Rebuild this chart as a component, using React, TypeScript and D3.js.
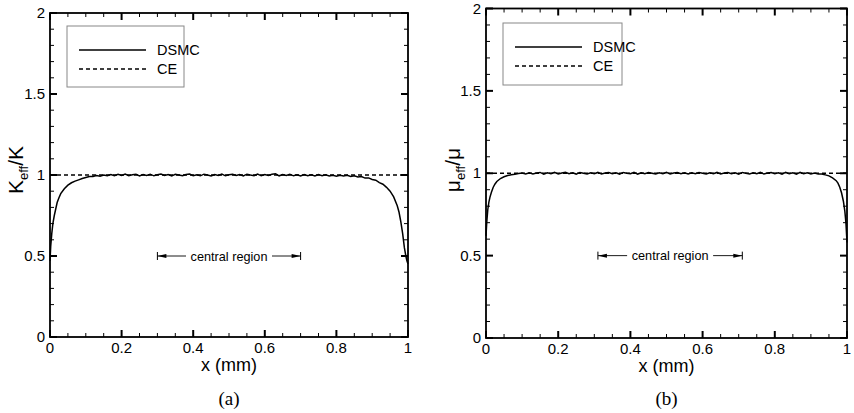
import React from "react";
import * as d3 from "d3";

// ---------- data ----------
const xTickValues = [0, 0.2, 0.4, 0.6, 0.8, 1];
const xTickLabels = ["0", "0.2", "0.4", "0.6", "0.8", "1"];
const yTickValues = [0, 0.5, 1, 1.5, 2];
const yTickLabels = ["0", "0.5", "1", "1.5", "2"];
const legendLabels = ["DSMC", "CE"];
const ceValue = 1.0;
const centralRegionA = [0.3, 0.7];
const centralRegionB = [0.31, 0.71];
const centralRegionY = 0.5;

const kappaDSMC: [number, number][] = [
  [0, 0.47], [0.002, 0.56], [0.005, 0.64], [0.008, 0.70], [0.012, 0.75], [0.016, 0.79],
  [0.02, 0.83], [0.025, 0.86], [0.03, 0.885], [0.04, 0.915], [0.05, 0.937], [0.06, 0.952],
  [0.07, 0.962], [0.08, 0.970], [0.09, 0.978], [0.10, 0.984], [0.11, 0.990],
  [0.12, 0.991], [0.13, 0.997], [0.14, 0.993], [0.15, 1.000], [0.16, 0.995], [0.17, 1.003],
  [0.18, 0.996], [0.19, 1.004], [0.20, 0.997], [0.21, 1.006], [0.22, 0.996], [0.23, 1.001],
  [0.24, 1.005], [0.25, 0.994], [0.26, 1.003], [0.27, 0.997], [0.28, 1.005], [0.29, 0.995],
  [0.30, 1.001], [0.31, 1.006], [0.32, 0.997], [0.33, 1.003], [0.34, 0.994], [0.35, 1.004],
  [0.36, 1.000], [0.37, 0.995], [0.38, 1.003], [0.39, 1.006], [0.40, 0.996], [0.41, 1.001],
  [0.42, 0.995], [0.43, 1.005], [0.44, 1.000], [0.45, 0.994], [0.46, 1.003], [0.47, 0.997],
  [0.48, 1.006], [0.49, 0.995], [0.50, 1.001], [0.51, 1.005], [0.52, 0.997], [0.53, 1.003],
  [0.54, 0.994], [0.55, 1.005], [0.56, 1.000], [0.57, 0.996], [0.58, 1.006], [0.59, 0.995],
  [0.60, 1.003], [0.61, 0.997], [0.62, 1.005], [0.63, 1.007], [0.64, 0.995], [0.65, 1.003],
  [0.66, 0.997], [0.67, 1.005], [0.68, 0.995], [0.69, 1.001], [0.70, 0.994], [0.71, 1.003],
  [0.72, 0.995], [0.73, 1.001], [0.74, 0.994], [0.75, 1.003], [0.76, 0.995], [0.77, 1.001],
  [0.78, 0.994], [0.79, 0.999], [0.80, 0.993], [0.81, 0.999], [0.82, 0.994], [0.83, 0.998],
  [0.84, 0.991], [0.85, 0.995], [0.86, 0.988], [0.87, 0.991], [0.88, 0.981], [0.89, 0.982],
  [0.90, 0.972], [0.91, 0.968], [0.92, 0.953], [0.93, 0.943], [0.94, 0.924], [0.95, 0.900],
  [0.96, 0.865], [0.97, 0.81], [0.975, 0.77], [0.98, 0.71], [0.985, 0.64], [0.99, 0.55],
  [0.994, 0.50], [0.997, 0.47], [1.0, 0.45],
];

const muDSMC: [number, number][] = [
  [0, 0.62], [0.002, 0.70], [0.005, 0.78], [0.008, 0.825], [0.011, 0.855], [0.015, 0.885],
  [0.02, 0.915], [0.025, 0.935], [0.03, 0.95], [0.04, 0.968], [0.05, 0.979], [0.06, 0.986],
  [0.07, 0.991], [0.08, 0.994], [0.09, 0.998], [0.10, 1.001], [0.11, 0.995], [0.12, 1.003],
  [0.13, 0.996], [0.14, 1.001], [0.15, 1.005], [0.16, 0.995], [0.17, 1.003], [0.18, 0.997],
  [0.19, 1.005], [0.20, 0.995], [0.21, 1.001], [0.22, 1.006], [0.23, 0.997], [0.24, 1.003],
  [0.25, 0.995], [0.26, 1.005], [0.27, 1.000], [0.28, 0.995], [0.29, 1.003], [0.30, 0.997],
  [0.31, 1.005], [0.32, 0.995], [0.33, 1.001], [0.34, 1.005], [0.35, 0.997], [0.36, 1.003],
  [0.37, 0.995], [0.38, 1.005], [0.39, 1.000], [0.40, 0.997], [0.41, 1.005], [0.42, 0.995],
  [0.43, 1.003], [0.44, 0.997], [0.45, 1.005], [0.46, 1.000], [0.47, 0.995], [0.48, 1.003],
  [0.49, 0.997], [0.50, 1.005], [0.51, 0.995], [0.52, 1.001], [0.53, 1.005], [0.54, 0.997],
  [0.55, 1.003], [0.56, 0.995], [0.57, 1.003], [0.58, 0.997], [0.59, 1.005], [0.60, 1.000],
  [0.61, 0.995], [0.62, 1.003], [0.63, 0.997], [0.64, 1.005], [0.65, 0.995], [0.66, 1.001],
  [0.67, 1.005], [0.68, 0.997], [0.69, 1.003], [0.70, 0.995], [0.71, 1.005], [0.72, 1.000],
  [0.73, 0.995], [0.74, 1.003], [0.75, 0.997], [0.76, 1.005], [0.77, 0.995], [0.78, 1.001],
  [0.79, 1.005], [0.80, 0.997], [0.81, 1.003], [0.82, 0.995], [0.83, 1.005], [0.84, 0.997],
  [0.85, 1.003], [0.86, 0.995], [0.87, 1.005], [0.88, 0.997], [0.89, 1.003], [0.90, 0.996],
  [0.91, 1.001], [0.92, 0.996], [0.93, 0.996], [0.94, 0.990], [0.95, 0.984], [0.96, 0.972],
  [0.97, 0.955], [0.975, 0.94], [0.98, 0.915], [0.985, 0.88], [0.99, 0.83], [0.994, 0.77],
  [0.997, 0.70], [1.0, 0.58],
];

// ---------- layout ----------
const W = 854;
const H = 413;
const FONT = "'Liberation Sans', Arial, Helvetica, sans-serif";

type PanelProps = {
  xr: [number, number];
  yr: [number, number];
  data: [number, number][];
  yLabelMain: string;
  yLabelSub: string;
  yLabelEnd: string;
  yLabelX: number;
  caption: string;
  legend: { x: number; y: number; w: number; h: number };
  region: number[];
};

function Panel(p: PanelProps) {
  const x = d3.scaleLinear().domain([0, 1]).range(p.xr);
  const y = d3.scaleLinear().domain([0, 2]).range(p.yr);
  const line = d3
    .line<[number, number]>()
    .x((d) => x(d[0]))
    .y((d) => y(d[1]));

  const xMinor = d3.range(0, 1.0001, 0.05).filter((v) => Math.abs(Math.round(v / 0.2) * 0.2 - v) > 1e-6);
  const yMinor = d3.range(0, 2.0001, 0.1).filter((v) => Math.abs(Math.round(v / 0.5) * 0.5 - v) > 1e-6);
  const [x0, x1] = p.xr;
  const [yb, yt] = p.yr;
  const MAJ = 7;
  const MIN = 4;
  const cx = (x0 + x1) / 2;

  const rx0 = x(p.region[0]);
  const rx1 = x(p.region[1]);
  const ry = y(centralRegionY);
  const rcx = (rx0 + rx1) / 2;
  const halfText = 39;
  const gap = 4;

  return (
    <g>
      {/* data */}
      <line x1={x(0)} x2={x(1)} y1={y(ceValue)} y2={y(ceValue)} stroke="#000" strokeWidth={1.4} strokeDasharray="4,3" />
      <path d={line(p.data) || ""} fill="none" stroke="#000" strokeWidth={1.5} />

      {/* ticks */}
      {xTickValues.map((v) => (
        <g key={"xm" + v}>
          <line x1={x(v)} x2={x(v)} y1={yb} y2={yb - MAJ} stroke="#000" strokeWidth={2} />
          <line x1={x(v)} x2={x(v)} y1={yt} y2={yt + MAJ} stroke="#000" strokeWidth={2} />
        </g>
      ))}
      {xMinor.map((v) => (
        <g key={"xn" + v}>
          <line x1={x(v)} x2={x(v)} y1={yb} y2={yb - MIN} stroke="#000" strokeWidth={1} />
          <line x1={x(v)} x2={x(v)} y1={yt} y2={yt + MIN} stroke="#000" strokeWidth={1} />
        </g>
      ))}
      {yTickValues.map((v) => (
        <g key={"ym" + v}>
          <line x1={x0} x2={x0 + MAJ} y1={y(v)} y2={y(v)} stroke="#000" strokeWidth={2} />
          <line x1={x1} x2={x1 - MAJ} y1={y(v)} y2={y(v)} stroke="#000" strokeWidth={2} />
        </g>
      ))}
      {yMinor.map((v) => (
        <g key={"yn" + v}>
          <line x1={x0} x2={x0 + MIN} y1={y(v)} y2={y(v)} stroke="#000" strokeWidth={1} />
          <line x1={x1} x2={x1 - MIN} y1={y(v)} y2={y(v)} stroke="#000" strokeWidth={1} />
        </g>
      ))}

      {/* frame */}
      <rect x={x0} y={yt} width={x1 - x0} height={yb - yt} fill="none" stroke="#000" strokeWidth={1.8} />

      {/* tick labels */}
      {xTickValues.map((v, i) => (
        <text key={"xl" + v} x={x(v)} y={yb + 16} textAnchor="middle" fontSize={15} fontFamily={FONT}>
          {xTickLabels[i]}
        </text>
      ))}
      {yTickValues.map((v, i) => (
        <text key={"yl" + v} x={x0 - 5} y={y(v) + 5} textAnchor="end" fontSize={15} fontFamily={FONT}>
          {yTickLabels[i]}
        </text>
      ))}

      {/* axis titles */}
      <text x={cx} y={yb + 34} textAnchor="middle" fontSize={18} fontFamily={FONT}>
        x (mm)
      </text>
      <text transform={`translate(${p.yLabelX},${170}) rotate(-90)`} textAnchor="middle" fontSize={21} fontFamily={FONT}>
        {p.yLabelMain}
        <tspan fontSize={13} dy={5}>{p.yLabelSub}</tspan>
        <tspan dy={-5}>{p.yLabelEnd}</tspan>
      </text>

      {/* caption */}
      <text x={cx} y={405} textAnchor="middle" fontSize={19} fontFamily="'Liberation Serif', 'Times New Roman', serif">
        {p.caption}
      </text>

      {/* legend */}
      <rect x={p.legend.x} y={p.legend.y} width={p.legend.w} height={p.legend.h} fill="#fff" stroke="#888" strokeWidth={1} />
      <line x1={p.legend.x + 12} x2={p.legend.x + 79} y1={p.legend.y + 24} y2={p.legend.y + 24} stroke="#000" strokeWidth={1.5} />
      <line x1={p.legend.x + 12} x2={p.legend.x + 79} y1={p.legend.y + 43} y2={p.legend.y + 43} stroke="#000" strokeWidth={1.5} strokeDasharray="4,3" />
      <text x={p.legend.x + 90} y={p.legend.y + 29} fontSize={14.5} fontFamily={FONT}>{legendLabels[0]}</text>
      <text x={p.legend.x + 90} y={p.legend.y + 48} fontSize={14.5} fontFamily={FONT}>{legendLabels[1]}</text>

      {/* central region annotation */}
      <line x1={rx0} x2={rx0} y1={ry - 4} y2={ry + 4} stroke="#000" strokeWidth={1} />
      <line x1={rx1} x2={rx1} y1={ry - 4} y2={ry + 4} stroke="#000" strokeWidth={1} />
      <line x1={rx0} x2={rcx - halfText - gap} y1={ry} y2={ry} stroke="#000" strokeWidth={0.9} />
      <line x1={rcx + halfText + gap} x2={rx1} y1={ry} y2={ry} stroke="#000" strokeWidth={0.9} />
      <path d={`M${rx0},${ry} L${rx0 + 9},${ry - 2} L${rx0 + 9},${ry + 2} Z`} fill="#000" />
      <path d={`M${rx1},${ry} L${rx1 - 9},${ry - 2} L${rx1 - 9},${ry + 2} Z`} fill="#000" />
      <text x={rcx} y={ry + 4.5} textAnchor="middle" fontSize={12.7} fontFamily={FONT}>
        central region
      </text>
    </g>
  );
}

export default function App() {
  return (
    <svg width={W} height={H} style={{ position: "absolute", left: 0, top: 0, background: "#fff" }}>
      <rect width={W} height={H} fill="#fff" />
      <Panel
        xr={[50, 408]}
        yr={[337, 13]}
        data={kappaDSMC}
        yLabelMain="K"
        yLabelSub="eff"
        yLabelEnd="/K"
        yLabelX={23}
        caption="(a)"
        legend={{ x: 67, y: 26, w: 117, h: 61 }}
        region={centralRegionA}
      />
      <Panel
        xr={[486, 847]}
        yr={[338, 8.5]}
        data={muDSMC}
        yLabelMain="μ"
        yLabelSub="eff"
        yLabelEnd="/μ"
        yLabelX={460}
        caption="(b)"
        legend={{ x: 503, y: 23, w: 119, h: 62 }}
        region={centralRegionB}
      />
    </svg>
  );
}
